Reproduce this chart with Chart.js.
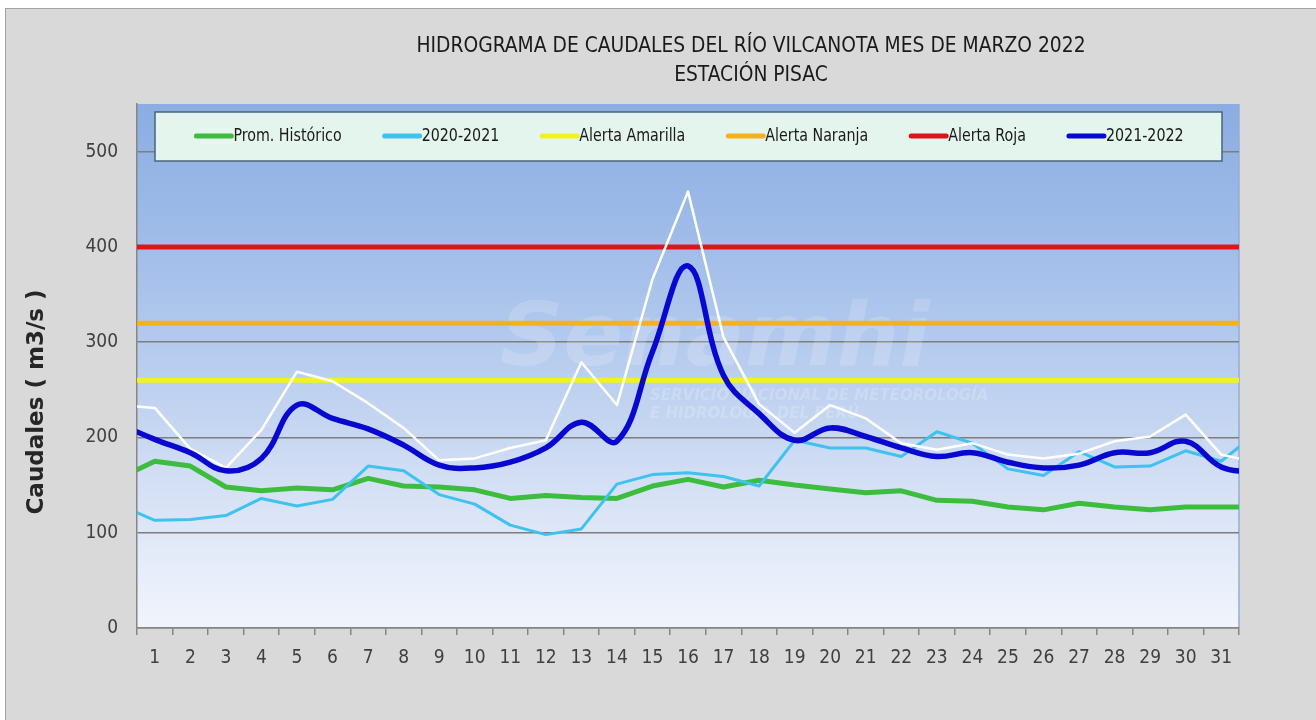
<!DOCTYPE html>
<html lang="es">
<head>
<meta charset="utf-8">
<title>Hidrograma de caudales del río Vilcanota - marzo 2022</title>
<script src="https://cdn.jsdelivr.net/npm/chart.js@4.4.1/dist/chart.umd.min.js"></script>
<style>
  html, body { margin: 0; padding: 0; background: #ffffff; }
  #marco {
    position: absolute; left: 5px; top: 8px; width: 1311px; height: 712px;
    background: #d9d9d9; border-left: 1px solid #a3a3a3; border-top: 1px solid #a3a3a3;
    box-sizing: border-box;
  }
  #caja { position: absolute; left: 0; top: 0; width: 1316px; height: 720px; }
</style>
</head>
<body>
<div id="marco"></div>
<div id="caja"><canvas id="grafico" width="1316" height="720"></canvas></div>
<script>
// dias 0 (28 feb) y 32 (1 abr) solo sirven para que las lineas lleguen al borde
const dias = [0, 1, 2, 3, 4, 5, 6, 7, 8, 9, 10, 11, 12, 13, 14, 15, 16, 17, 18, 19, 20,
  21, 22, 23, 24, 25, 26, 27, 28, 29, 30, 31, 32];
const etiquetasDias = ["1", "2", "3", "4", "5", "6", "7", "8", "9", "10", "11", "12", "13",
  "14", "15", "16", "17", "18", "19", "20", "21", "22", "23", "24", "25", "26", "27", "28",
  "29", "30", "31"];
const ticksY = [0, 100, 200, 300, 400, 500];

const promHistorico = [157, 175, 170, 148, 144, 147, 145, 157, 149, 148, 145, 136, 139, 137,
  136, 149, 156, 148, 155, 150, 146, 142, 144, 134, 133, 127, 124, 131, 127, 124, 127, 127, 127];
const caudal2020_2021 = [129, 113, 114, 118, 136, 128, 135, 170, 165, 140, 130, 108, 98, 104,
  151, 161, 163, 159, 149, 197, 189, 189, 180, 206, 194, 167, 160, 185, 169, 170, 186, 175, 205];
const caudal2021_2022 = [214, 198, 184, 165, 178, 234, 220, 209, 192, 171, 168, 174, 189, 216,
  196, 290, 380, 265, 225, 197, 210, 201, 189, 180, 184, 174, 168, 171, 184, 184, 196, 169, 163];
const caudalMaximo = [234, 231, 188, 168, 208, 269, 259, 236, 210, 176, 178, 189, 197, 279,
  234, 366, 458, 305, 235, 205, 234, 220, 194, 187, 194, 182, 178, 183, 196, 201, 224, 182, 174];

const alertaAmarilla = 260;
const alertaNaranja = 320;
const alertaRoja = 400;

const fuente = "'Liberation Sans Narrow', 'DejaVu Sans Condensed', 'Arial Narrow', sans-serif";

const puntos = (serie) => dias.map((d, i) => ({ x: d, y: serie[i] }));
const umbral = (valor) => dias.map((d) => ({ x: d, y: valor }));

const linea = {
  xAxisID: "xd",
  pointRadius: 0,
  pointHoverRadius: 0,
  fill: false,
  borderCapStyle: "round",
  borderJoinStyle: "round",
};

const data = {
  datasets: [
    { ...linea, label: "Prom. Histórico", data: puntos(promHistorico), borderColor: "#3dbd3d", borderWidth: 5, order: 7 },
    { ...linea, label: "2020-2021", data: puntos(caudal2020_2021), borderColor: "#3ec2ee", borderWidth: 3, order: 6 },
    { ...linea, label: "Alerta Amarilla", data: umbral(alertaAmarilla), borderColor: "#f3f31c", borderWidth: 5, order: 5 },
    { ...linea, label: "Alerta Naranja", data: umbral(alertaNaranja), borderColor: "#f5b21c", borderWidth: 5, order: 4 },
    { ...linea, label: "Alerta Roja", data: umbral(alertaRoja), borderColor: "#e0121c", borderWidth: 5, order: 3 },
    { ...linea, label: "2021-2022", data: puntos(caudal2021_2022), borderColor: "#0808d0", borderWidth: 5.5, tension: 0.4, order: 1 },
    { ...linea, label: "", data: puntos(caudalMaximo), borderColor: "#ffffff", borderWidth: 2.5, order: 2 },
  ],
};

// texto algo estrecho, como el Calibri del original
function textoEstrecho(ctx, texto, x, y, escala) {
  ctx.save();
  ctx.translate(x, y);
  ctx.scale(escala, 1);
  ctx.fillText(texto, 0, 0);
  ctx.restore();
}

// fondo, marca de agua, titulos y leyenda dentro del area
const decoracion = {
  id: "decoracion",
  beforeDraw(chart) {
    const { ctx, chartArea: a } = chart;
    ctx.save();
    const g = ctx.createLinearGradient(0, a.top, 0, a.bottom);
    g.addColorStop(0, "#8badE1");
    g.addColorStop(0.3, "#a3bfea");
    g.addColorStop(0.6, "#c4d5f1");
    g.addColorStop(0.85, "#e3eaf8");
    g.addColorStop(1, "#f1f4fc");
    ctx.fillStyle = g;
    ctx.fillRect(a.left, a.top, a.right - a.left, a.bottom - a.top);

    ctx.strokeStyle = "#93acd6";
    ctx.lineWidth = 1.5;
    ctx.beginPath();
    ctx.moveTo(a.right, a.top);
    ctx.lineTo(a.right, a.bottom);
    ctx.stroke();

    ctx.fillStyle = "#1a1a1a";
    ctx.textAlign = "center";
    ctx.textBaseline = "middle";
    ctx.font = "22px " + fuente;
    textoEstrecho(ctx, "HIDROGRAMA DE CAUDALES DEL RÍO VILCANOTA MES DE MARZO 2022", 751, 46, 0.945);
    textoEstrecho(ctx, "ESTACIÓN PISAC", 751, 75, 0.945);

    ctx.translate(37, 402);
    ctx.rotate(-Math.PI / 2);
    ctx.fillStyle = "#262626";
    ctx.font = "bold 23px 'DejaVu Sans', sans-serif";
    ctx.fillText("Caudales ( m3/s )", 0, 0);
    ctx.restore();
  },
  beforeDatasetsDraw(chart) {
    const { ctx } = chart;
    ctx.save();
    ctx.fillStyle = "rgba(255, 255, 255, 0.16)";
    ctx.textBaseline = "alphabetic";
    ctx.textAlign = "left";
    ctx.font = "italic bold 88px 'DejaVu Sans', sans-serif";
    ctx.fillText("Senamhi", 500, 365);
    ctx.fillStyle = "rgba(255, 255, 255, 0.2)";
    ctx.font = "italic bold 15px 'DejaVu Sans', sans-serif";
    ctx.fillText("SERVICIO NACIONAL DE METEOROLOGÍA", 650, 400);
    ctx.fillText("E HIDROLOGÍA DEL PERÚ", 650, 418);
    ctx.restore();
  },
  afterDatasetsDraw(chart) {
    const { ctx } = chart;
    const caja = { x1: 155, y1: 112, x2: 1222, y2: 161 };
    ctx.save();
    ctx.fillStyle = "#e3f5ec";
    ctx.fillRect(caja.x1, caja.y1, caja.x2 - caja.x1, caja.y2 - caja.y1);
    ctx.strokeStyle = "#46667a";
    ctx.lineWidth = 1.5;
    ctx.strokeRect(caja.x1, caja.y1, caja.x2 - caja.x1, caja.y2 - caja.y1);

    const items = chart.data.datasets.filter((ds) => ds.label);
    const escala = 0.88;
    ctx.font = "18px " + fuente;
    const ancho = (t) => ctx.measureText(t).width * escala;
    const muestra = 40;
    const hueco = 40;
    let total = -hueco;
    items.forEach((ds) => { total += muestra + ancho(ds.label) + hueco; });
    let x = (caja.x1 + caja.x2) / 2 - total / 2;
    const y = 136;
    ctx.textBaseline = "middle";
    ctx.textAlign = "left";
    items.forEach((ds) => {
      ctx.strokeStyle = ds.borderColor;
      ctx.lineWidth = 5;
      ctx.lineCap = "round";
      ctx.beginPath();
      ctx.moveTo(x + 3, y);
      ctx.lineTo(x + muestra - 2, y);
      ctx.stroke();
      ctx.fillStyle = "#1a1a1a";
      textoEstrecho(ctx, ds.label, x + muestra, y, escala);
      x += muestra + ancho(ds.label) + hueco;
    });
    ctx.restore();
  },
};

const config = {
  type: "line",
  data: data,
  options: {
    responsive: false,
    animation: false,
    devicePixelRatio: 1,
    layout: { padding: { top: 104, right: 77, left: 0, bottom: 0 } },
    scales: {
      x: {
        type: "category",
        labels: etiquetasDias,
        position: "bottom",
        offset: true,
        grid: {
          offset: true,
          drawOnChartArea: false,
          drawTicks: true,
          tickLength: 7,
          color: "#868686",
          lineWidth: 1.5,
        },
        border: { color: "#868686", width: 1.5 },
        ticks: {
          color: "#404040",
          font: { family: fuente, size: 19 },
          padding: 12,
          maxRotation: 0,
          autoSkip: false,
        },
        afterFit: (s) => { s.height = 92; },
      },
      xd: { type: "linear", min: 0.5, max: 31.5, display: false },
      y: {
        position: "left",
        min: 0,
        max: 550,
        afterBuildTicks: (s) => { s.ticks = ticksY.map((v) => ({ value: v })); },
        afterFit: (s) => { s.width = 137; },
        grid: { color: "#7d7d7d", lineWidth: 1.5, drawTicks: false },
        border: { color: "#868686", width: 1.5 },
        ticks: {
          color: "#404040",
          font: { family: fuente, size: 19 },
          padding: 19,
        },
      },
    },
    plugins: {
      legend: { display: false },
      tooltip: { enabled: false },
    },
  },
  plugins: [decoracion],
};

Chart.defaults.font.family = fuente;

const grafico = new Chart(document.getElementById("grafico").getContext("2d"), config);
</script>
</body>
</html>
